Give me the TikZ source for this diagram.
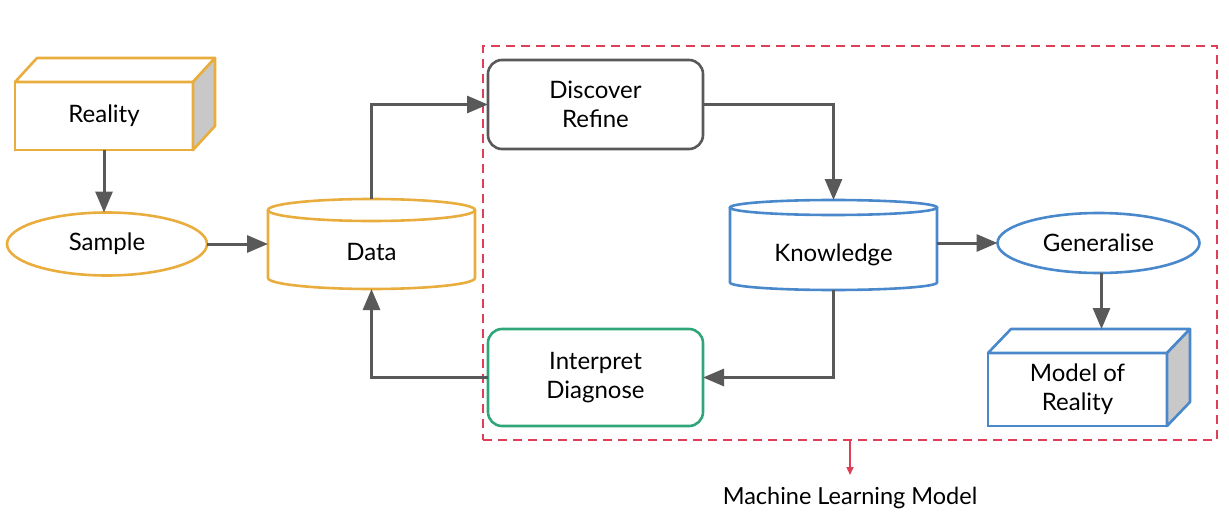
\documentclass[tikz,border=0pt]{standalone}
\usepackage{fontspec}
\setmainfont{Lato}
\usetikzlibrary{arrows.meta,calc,shapes.geometric}
\definecolor{orng}{HTML}{E9AD3E}
\definecolor{blu}{HTML}{4A88CC}
\definecolor{grn}{HTML}{2FA679}
\definecolor{dgray}{HTML}{595959}
\definecolor{sidegray}{HTML}{C8C8C8}
\definecolor{mlred}{HTML}{DF3E57}
\begin{document}
\begin{tikzpicture}[x=1pt,y=-1pt,
  lbl/.style={font=\fontsize{24}{29}\selectfont, align=center, text=black},
  shp/.style={lbl, line width=2.6pt, outer sep=0pt, inner sep=0pt},
  frontbox/.style={shp, rectangle, fill=white},
  roundbox/.style={shp, rectangle, rounded corners=14pt, minimum width=215pt},
  ell/.style={shp, ellipse},
  cylnode/.style={lbl, rectangle, inner sep=0pt, outer sep=0pt, minimum width=207pt, minimum height=90pt, text height=34pt, text depth=1pt},
  conn/.style={draw=dgray, line width=3pt, -{Triangle[length=21pt,width=17pt]}},
  mlframe/.style={draw=mlred, line width=1.6pt, dash pattern=on 9pt off 6pt, rectangle, minimum width=734pt, minimum height=394pt, inner sep=0pt, outer sep=0pt},
]
\useasboundingbox (0,0) rectangle (1229,524);

% Machine learning frame
\node[mlframe] (mlbox) at (850,243) {};
\node[font=\fontsize{23.5}{28}\selectfont, text=black, inner sep=0pt] (mllabel) at (850,498) {Machine Learning Model};
\draw[draw=mlred, line width=1.5pt, -{Triangle[length=8pt,width=7pt]}, shorten >=12pt] (mlbox.south) -- (mllabel.north);

% Reality (3D box)
\node[frontbox, draw=orng, minimum width=178pt, minimum height=68pt] (reality) at (104,116) {Reality};
\draw[orng, line width=2.6pt, line join=round, fill=white] (reality.north west) -- ++(22,-24) -- ++(178,0) -- (reality.north east) -- cycle;
\draw[orng, line width=2.6pt, line join=round, fill=sidegray] (reality.north east) -- ++(22,-24) -- ++(0,68) -- (reality.south east) -- cycle;

% Sample
\node[ell, draw=orng, minimum width=200pt, minimum height=63pt] (sample) at (107,244) {Sample};

% Data cylinder
\node[cylnode] (data) at (371.5,244) {Data};
\draw[orng, line width=2.6pt] ($(data.north)+(0,11)$) ellipse [x radius=103.5pt, y radius=11pt];
\draw[orng, line width=2.6pt] ($(data.north west)+(0,11)$) -- ($(data.south west)+(0,-11)$) arc[start angle=180, end angle=360, x radius=103.5pt, y radius=11pt] -- ($(data.north east)+(0,11)$);

% Discover / Refine
\node[roundbox, draw=dgray, minimum height=89pt] (discover) at (595.5,104.5) {Discover\\Refine};

% Knowledge cylinder
\node[cylnode] (knowledge) at (833.5,245) {Knowledge};
\draw[blu, line width=2.6pt] ($(knowledge.north)+(0,7.5)$) ellipse [x radius=103.5pt, y radius=7.5pt];
\draw[blu, line width=2.6pt] ($(knowledge.north west)+(0,7.5)$) -- ($(knowledge.south west)+(0,-7.5)$) arc[start angle=180, end angle=360, x radius=103.5pt, y radius=7.5pt] -- ($(knowledge.north east)+(0,7.5)$);

% Generalise
\node[ell, draw=blu, minimum width=202pt, minimum height=60pt] (generalise) at (1098.5,243) {Generalise};

% Model of Reality (3D box)
\node[frontbox, draw=blu, minimum width=179pt, minimum height=73pt] (model) at (1077.5,389.5) {Model of\\Reality};
\draw[blu, line width=2.6pt, line join=round, fill=white] (model.north west) -- ++(23,-24) -- ++(179,0) -- (model.north east) -- cycle;
\draw[blu, line width=2.6pt, line join=round, fill=sidegray] (model.north east) -- ++(23,-24) -- ++(0,73) -- (model.south east) -- cycle;
\coordinate (mback) at ($(model.north west)+(23,-24)$);

% Interpret / Diagnose
\node[roundbox, draw=grn, minimum height=97pt] (interpret) at (595.5,377.5) {Interpret\\Diagnose};

% Connectors
\draw[conn] (reality.south) -- (reality.south |- sample.north);
\draw[conn] (sample.east) -- (data.west);
\draw[conn] (data.north) |- (discover.west);
\draw[conn] (discover.east) -| (knowledge.north);
\draw[conn] (knowledge.east |- generalise.west) -- (generalise.west);
\draw[conn] ([xshift=3pt]generalise.south) -- ([xshift=3pt]generalise.south |- mback);
\draw[conn] (knowledge.south) |- (interpret.east);
\draw[conn] (interpret.west) -| (data.south);
\end{tikzpicture}
\end{document}
